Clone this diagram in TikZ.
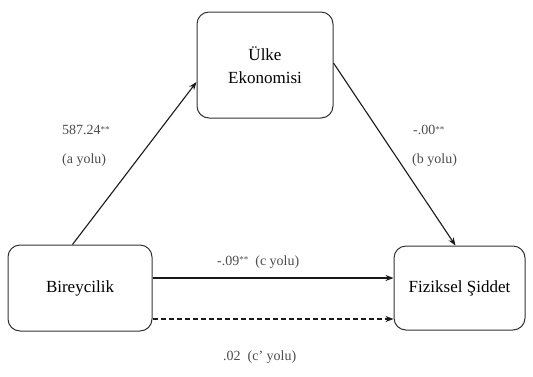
\documentclass[tikz,border=0pt]{standalone}
\usepackage{fontspec}
\setmainfont{Liberation Serif}
\usetikzlibrary{arrows.meta,calc}
\newcommand{\stars}{\raisebox{2.5pt}{\fontsize{9}{9}\selectfont **}}
\begin{document}
\begin{tikzpicture}[x=1pt,y=-1pt,
  box/.style={draw=black!80,line width=1pt,rounded corners=12pt,fill=white,inner sep=0pt,align=center,font=\fontsize{17}{22}\selectfont},
  conn/.style={draw=black!90,line width=1.1pt,-{Stealth[length=8pt,width=6pt]}},
  lbl/.style={text=black!70,font=\fontsize{14}{18}\selectfont,inner sep=0pt,align=left}]
\useasboundingbox (0,0) rectangle (533,376);
\node[box,minimum width=136pt,minimum height=106pt] (ulke) at (265,65) {Ülke\\[1pt]Ekonomisi};
\node[box,minimum width=144pt,minimum height=86pt] (bir) at (80,288) {Bireycilik};
\node[box,minimum width=131pt,minimum height=84pt] (fiz) at (459.5,288) {Fiziksel Şiddet};
\draw[conn] ([xshift=65pt]bir.north west) -- ([yshift=-17pt]ulke.west);
\draw[conn] ([yshift=2pt]ulke.east) -- ([xshift=62pt]fiz.north west);
\draw[conn] ([yshift=10pt]bir.east) -- ([yshift=10pt]fiz.west);
\draw[conn,dashed,dash pattern=on 5pt off 3pt] ([yshift=-31pt]bir.east) -- ([yshift=-31pt]fiz.west);
\node[lbl,anchor=west] (la1) at (62,130) {587.24\stars};
\node[lbl,anchor=west] (la2) at (62,160) {(a yolu)};
\node[lbl,anchor=west] (lb1) at (413,130) {-.00\stars};
\node[lbl,anchor=west] (lb2) at (412,160) {(b yolu)};
\node[lbl,anchor=west] (lc) at (217,262) {-.09\stars\ \ (c yolu)};
\node[lbl,anchor=west] (lcp) at (223,357) {.02\ \ (c' yolu)};
\end{tikzpicture}
\end{document}
